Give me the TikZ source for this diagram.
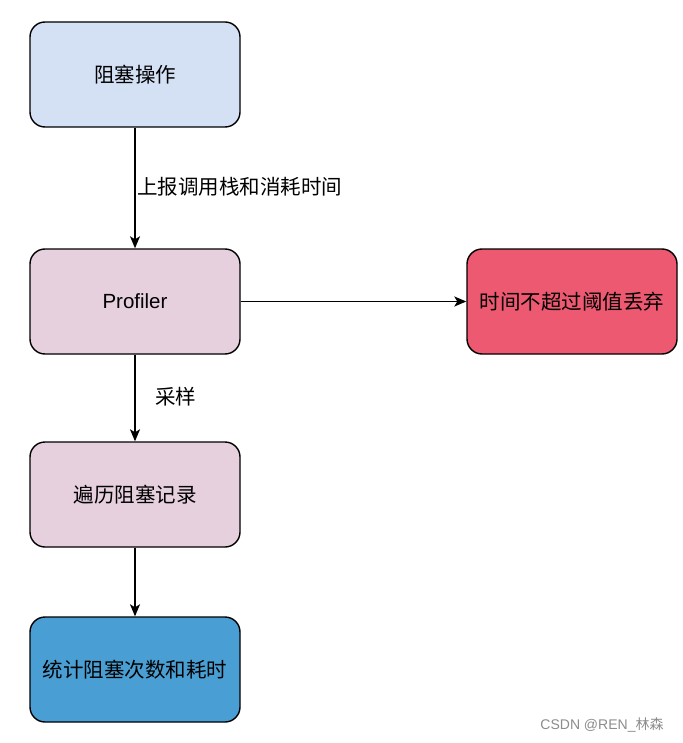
\documentclass[tikz,border=0pt]{standalone}
\usepackage{fontspec}
\setmainfont{Liberation Sans}
\newfontfamily\cjk{Noto Sans CJK SC}
\usetikzlibrary{arrows.meta}
\definecolor{boxblue}{RGB}{212,225,245}
\definecolor{boxpink}{RGB}{230,208,222}
\definecolor{boxred}{RGB}{236,89,112}
\definecolor{boxdeep}{RGB}{73,159,212}
\begin{document}
\begin{tikzpicture}[x=1pt,y=-1pt,
  box/.style={draw=black, line width=1.4pt, rounded corners=15pt, minimum width=210pt, minimum height=105pt, inner sep=0pt, font=\fontsize{20.5}{24}\selectfont},
  conn/.style={draw=black, line width=1.4pt, -{Stealth[length=12pt,width=10pt,inset=3pt]}},
  lbl/.style={font=\cjk\fontsize{20.5}{24}\selectfont, inner sep=0pt}]
\useasboundingbox[fill=white] (0,0) rectangle (682,743);
\node[box, fill=boxblue] (a) at (135,74.5) {\cjk 阻塞操作};
\node[box, fill=boxpink] (b) at (135,301.5) {Profiler};
\node[box, fill=boxred] (c) at (572,301.5) {\cjk 时间不超过阈值丢弃};
\node[box, fill=boxpink] (d) at (135,494.5) {\cjk 遍历阻塞记录};
\node[box, fill=boxdeep] (e) at (135,669.5) {\cjk 统计阻塞次数和耗时};
\draw[conn] (a) -- (b);
\draw[conn] (b) -- (c);
\draw[conn] (b) -- (d);
\draw[conn] (d) -- (e);
\node[lbl, anchor=west] (l1) at (137,187) {上报调用栈和消耗时间};
\node[lbl, anchor=west] (l2) at (155,397) {采样};
\node[anchor=center, inner sep=0pt, text=black!45, font=\fontsize{14}{16}\selectfont] (wm) at (602,725) {CSDN @REN\_{\cjk 林森}};
\end{tikzpicture}
\end{document}
